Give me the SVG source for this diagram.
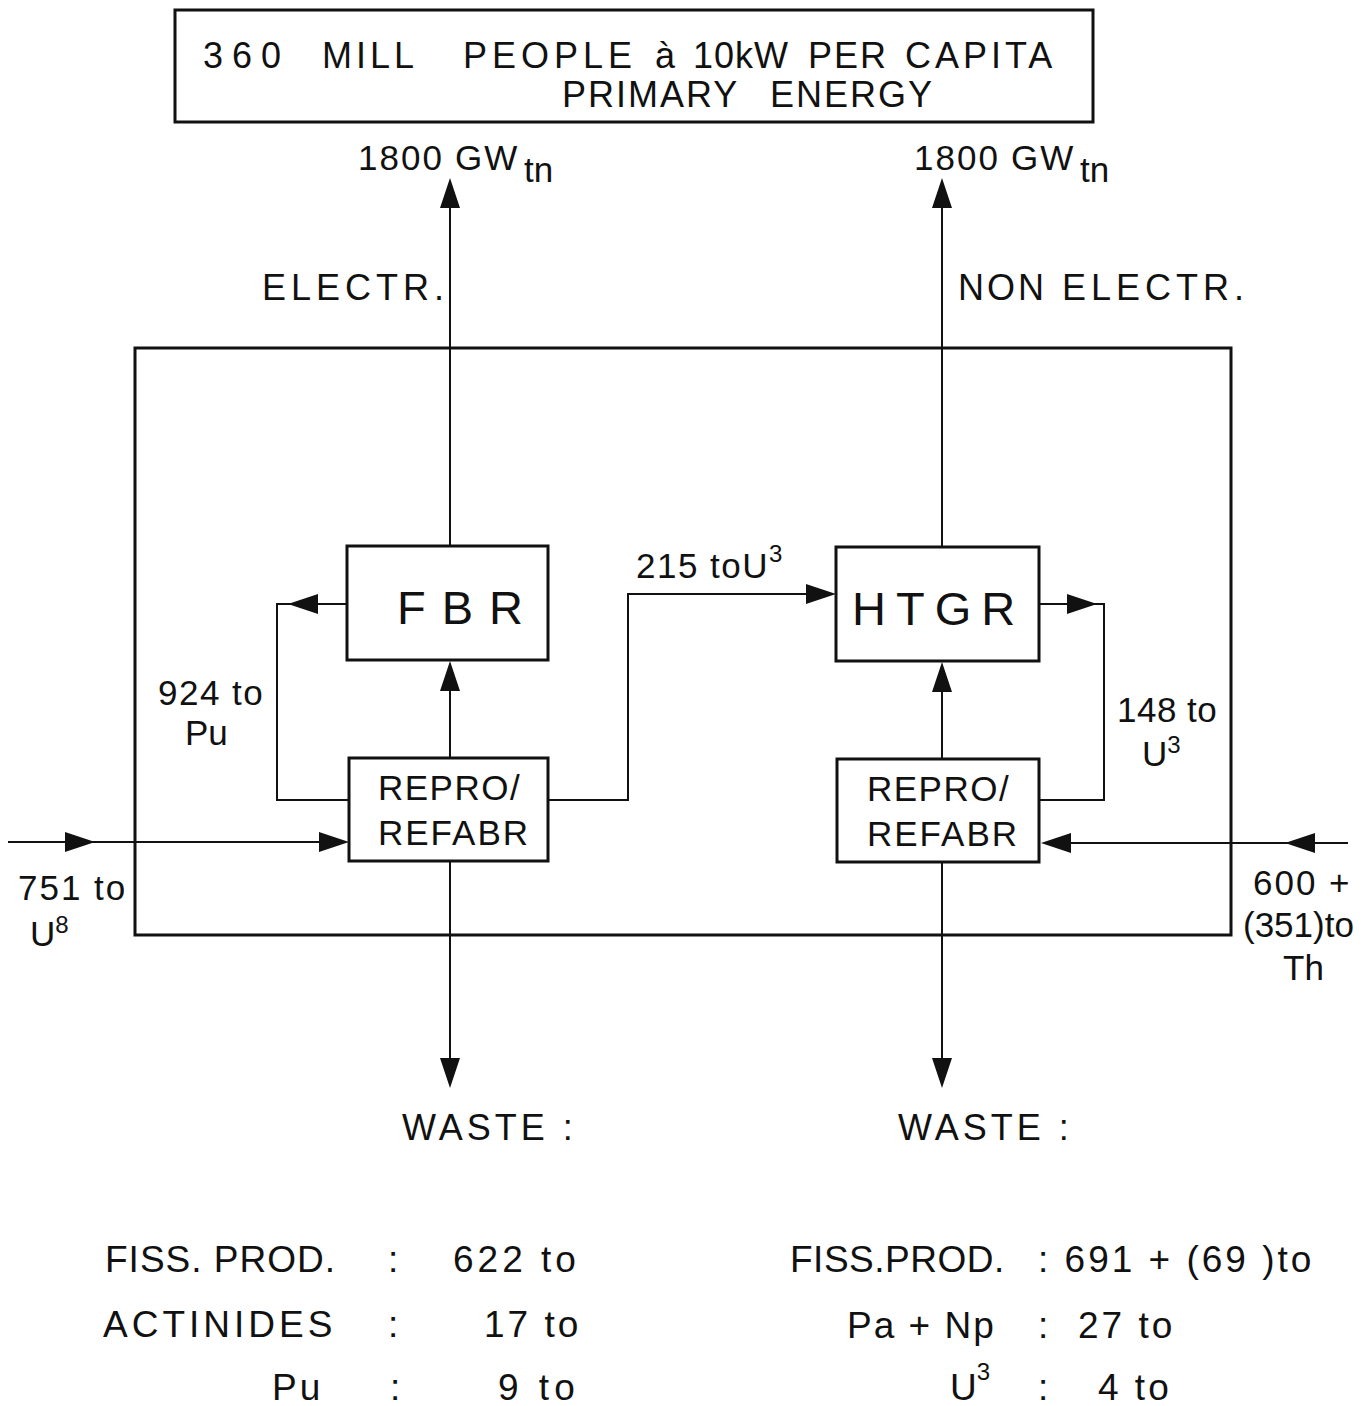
<svg xmlns="http://www.w3.org/2000/svg" xmlns:xlink="http://www.w3.org/1999/xlink" width="1371" height="1406" viewBox="0 0 1371 1406">
<style>
text{font-family:"Liberation Sans","DejaVu Sans",sans-serif;fill:#111;}
.box{fill:none;stroke:#111;stroke-width:3;}
.ln{fill:none;stroke:#111;stroke-width:2;}
.t36{font-size:36px;}
.t34{font-size:35px;}
.t37{font-size:37px;}
.big{font-size:47px;}
.sm{font-size:24px;}
</style>
<defs>
<path id="ah" d="M0,0 L-30,-10 L-30,10 Z" fill="#111"/>
</defs>
<rect width="1371" height="1406" fill="#fff"/>

<g id="title">
<rect class="box" x="175" y="10" width="918" height="112"/>
<text class="t36" y="68"><tspan x="203" letter-spacing="9">360</tspan><tspan x="322" letter-spacing="4">MILL</tspan><tspan x="463" letter-spacing="5">PEOPLE</tspan><tspan x="655">à</tspan><tspan x="693" letter-spacing="1">10kW</tspan><tspan x="808" letter-spacing="2">PER</tspan><tspan x="905" letter-spacing="4">CAPITA</tspan></text>
<text class="t36" y="107"><tspan x="562" letter-spacing="2">PRIMARY</tspan><tspan x="770" letter-spacing="2">ENERGY</tspan></text>
</g>

<g id="outer-box">
<rect class="box" x="135" y="348" width="1096" height="587"/>
</g>

<g id="fbr">
<rect class="box" x="347" y="546" width="201" height="114"/>
<text class="big" x="397" y="624" letter-spacing="16">FBR</text>
</g>

<g id="htgr">
<rect class="box" x="836" y="547" width="203" height="114"/>
<text class="big" x="852" y="625" letter-spacing="10">HTGR</text>
</g>

<g id="repro-left">
<rect class="box" x="349" y="758" width="199" height="103"/>
<text class="t34" x="378" y="800" letter-spacing="1.5">REPRO/</text>
<text class="t34" x="378" y="845" letter-spacing="2">REFABR</text>
</g>

<g id="repro-right">
<rect class="box" x="837" y="759" width="202" height="103"/>
<text class="t34" x="867" y="801" letter-spacing="1.5">REPRO/</text>
<text class="t34" x="867" y="846" letter-spacing="2">REFABR</text>
</g>

<g id="connectors">
<path class="ln" d="M450,546 V185"/>
<use xlink:href="#ah" transform="translate(450,178) rotate(-90)"/>
<path class="ln" d="M942,547 V185"/>
<use xlink:href="#ah" transform="translate(942,178) rotate(-90)"/>
<path class="ln" d="M347,604 H277 V800 H349"/>
<use xlink:href="#ah" transform="translate(288,604) rotate(180)"/>
<path class="ln" d="M450,758 V665"/>
<use xlink:href="#ah" transform="translate(450,661) rotate(-90)"/>
<path class="ln" d="M548,800 H628 V594 H830"/>
<use xlink:href="#ah" transform="translate(836,594)"/>
<path class="ln" d="M1039,604 H1104 V800 H1039"/>
<use xlink:href="#ah" transform="translate(1097,604)"/>
<path class="ln" d="M942,759 V667"/>
<use xlink:href="#ah" transform="translate(942,662) rotate(-90)"/>
<path class="ln" d="M8,842 H344"/>
<use xlink:href="#ah" transform="translate(95,842)"/>
<use xlink:href="#ah" transform="translate(349,842)"/>
<path class="ln" d="M1348,843 H1045"/>
<use xlink:href="#ah" transform="translate(1285,843) rotate(180)"/>
<use xlink:href="#ah" transform="translate(1041,843) rotate(180)"/>
<path class="ln" d="M450,861 V1082"/>
<use xlink:href="#ah" transform="translate(450,1088) rotate(90)"/>
<path class="ln" d="M942,862 V1082"/>
<use xlink:href="#ah" transform="translate(942,1088) rotate(90)"/>
</g>

<g id="labels">
<text class="t34" y="170"><tspan x="358" letter-spacing="2">1800</tspan><tspan x="455" letter-spacing="2">GW</tspan><tspan x="524" y="182">tn</tspan></text>
<text class="t34" y="170"><tspan x="914" letter-spacing="2">1800</tspan><tspan x="1011" letter-spacing="2">GW</tspan><tspan x="1080" y="182">tn</tspan></text>
<text class="t36" x="262" y="300" letter-spacing="5">ELECTR.</text>
<text class="t36" x="958" y="300"><tspan letter-spacing="3">NON</tspan><tspan x="1062" letter-spacing="5">ELECTR.</tspan></text>
<text class="t34" x="158" y="705" letter-spacing="1.5">924 to</text>
<text class="t34" x="185" y="745">Pu</text>
<text class="t34" x="636" y="578" letter-spacing="1.5">215 toU<tspan class="sm" dy="-16">3</tspan></text>
<text class="t34" x="1117" y="722" letter-spacing="0.5">148 to</text>
<text class="t34" x="1142" y="766">U<tspan class="sm" dy="-13">3</tspan></text>
<text class="t34" x="18" y="900" letter-spacing="2">751 to</text>
<text class="t34" x="30" y="946">U<tspan class="sm" dy="-13">8</tspan></text>
<text class="t34" x="1253" y="895" letter-spacing="2">600 +</text>
<text class="t34" x="1243" y="937" letter-spacing="0">(351)to</text>
<text class="t34" x="1283" y="980">Th</text>
<text class="t36" x="402" y="1140" letter-spacing="4">WASTE :</text>
<text class="t36" x="898" y="1140" letter-spacing="4">WASTE :</text>
</g>

<g id="waste-left">
<text class="t37" x="105" y="1272" letter-spacing="1">FISS. PROD.</text>
<text class="t37" x="388" y="1272">:</text>
<text class="t37" x="453" y="1272" letter-spacing="4">622 to</text>
<text class="t37" x="103" y="1337" letter-spacing="4">ACTINIDES</text>
<text class="t37" x="388" y="1337">:</text>
<text class="t37" x="484" y="1337" letter-spacing="3">17 to</text>
<text class="t37" x="272" y="1400" letter-spacing="3">Pu</text>
<text class="t37" x="390" y="1400">:</text>
<text class="t37" x="498" y="1400" letter-spacing="5">9 to</text>
</g>

<g id="waste-right">
<text class="t37" x="790" y="1272" letter-spacing="0.5">FISS.PROD.</text>
<text class="t37" x="1038" y="1272" letter-spacing="3">: 691 + (69 )to</text>
<text class="t37" x="847" y="1338" letter-spacing="2">Pa + Np</text>
<text class="t37" y="1338"><tspan x="1038">:</tspan><tspan x="1078" letter-spacing="3">27 to</tspan></text>
<text class="t37" x="950" y="1400">U<tspan class="sm" dy="-20">3</tspan></text>
<text class="t37" y="1400"><tspan x="1038">:</tspan><tspan x="1098" letter-spacing="3">4 to</tspan></text>
</g>
</svg>
